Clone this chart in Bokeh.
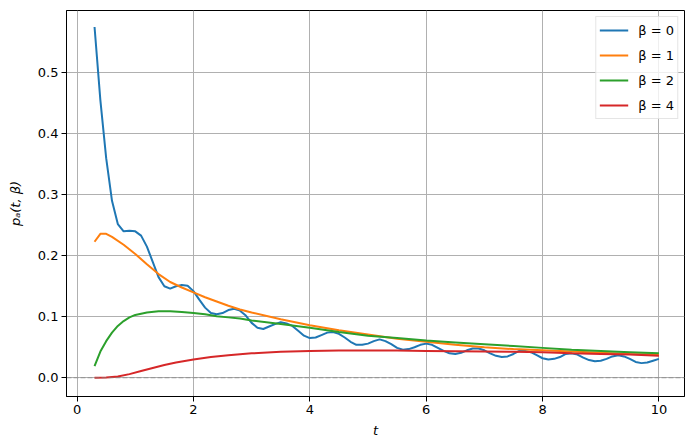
import numpy as np
from bokeh.plotting import figure
from bokeh.models import Range1d, FixedTicker, Span, Legend, LegendItem, NumeralTickFormatter
from bokeh.embed import file_html
from bokeh.resources import INLINE

# ---- data ----
t_beta0 = [round(0.3 + 0.1 * i, 1) for i in range(98)]
p_beta0 = [0.575, 0.455, 0.360, 0.290, 0.252, 0.240, 0.241, 0.240, 0.233, 0.215,
           0.190, 0.165, 0.150, 0.146, 0.150, 0.152, 0.151, 0.142, 0.128, 0.115,
           0.106, 0.104, 0.106, 0.111, 0.113, 0.110, 0.102, 0.090, 0.082, 0.080,
           0.084, 0.088, 0.091, 0.089, 0.085, 0.077, 0.069, 0.065, 0.066, 0.070,
           0.074, 0.075, 0.072, 0.066, 0.059, 0.054, 0.054, 0.056, 0.060, 0.063,
           0.060, 0.055, 0.049, 0.046, 0.047, 0.050, 0.054, 0.056, 0.054, 0.049,
           0.044, 0.040, 0.039, 0.041, 0.045, 0.048, 0.048, 0.045, 0.040, 0.036,
           0.034, 0.035, 0.039, 0.044, 0.044, 0.042, 0.037, 0.032, 0.030, 0.031,
           0.034, 0.039, 0.040, 0.038, 0.033, 0.029, 0.027, 0.028, 0.031, 0.035,
           0.037, 0.035, 0.031, 0.026, 0.024, 0.025, 0.028, 0.031]

t_beta1 = [0.3, 0.4, 0.5, 0.6, 0.8, 1.0, 1.2, 1.4, 1.6, 1.8, 2.0, 2.2, 2.4, 2.6, 2.8,
           3.0, 3.5, 4.0, 4.5, 5.0, 5.5, 6.0, 6.5, 7.0, 7.5, 8.0, 8.5, 9.0, 9.5, 10.0]
p_beta1 = [0.223, 0.236, 0.236, 0.231, 0.218, 0.203, 0.186, 0.170, 0.157, 0.148, 0.140,
           0.132, 0.125, 0.118, 0.112, 0.107, 0.096, 0.086, 0.078, 0.071, 0.064, 0.059,
           0.054, 0.050, 0.047, 0.045, 0.043, 0.041, 0.039, 0.038]

t_beta2 = [0.3, 0.4, 0.5, 0.6, 0.7, 0.8, 0.9, 1.0, 1.2, 1.4, 1.6, 1.8, 2.0, 2.2, 2.4,
           2.6, 2.8, 3.0, 3.5, 4.0, 4.5, 5.0, 5.5, 6.0, 6.5, 7.0, 7.5, 8.0, 8.5, 9.0,
           9.5, 10.0]
p_beta2 = [0.019, 0.043, 0.060, 0.074, 0.085, 0.093, 0.099, 0.103, 0.107, 0.109, 0.109,
           0.108, 0.106, 0.104, 0.101, 0.099, 0.097, 0.094, 0.088, 0.082, 0.075, 0.069,
           0.065, 0.061, 0.058, 0.055, 0.052, 0.049, 0.046, 0.044, 0.042, 0.040]

t_beta4 = [0.3, 0.5, 0.7, 0.9, 1.1, 1.3, 1.5, 1.7, 2.0, 2.3, 2.6, 3.0, 3.5, 4.0, 4.5,
           5.0, 5.5, 6.0, 6.5, 7.0, 7.5, 8.0, 8.5, 9.0, 9.5, 10.0]
p_beta4 = [0.0, 0.0005, 0.002, 0.006, 0.011, 0.016, 0.021, 0.025, 0.030, 0.034, 0.037,
           0.040, 0.0425, 0.044, 0.0445, 0.0447, 0.0445, 0.044, 0.0435, 0.043, 0.0425,
           0.042, 0.040, 0.039, 0.038, 0.036]

labels = ["β = 0", "β = 1", "β = 2", "β = 4"]
colors = ["#1f77b4", "#ff7f0e", "#2ca02c", "#d62728"]
x_ticks = [0, 2, 4, 6, 8, 10]
y_ticks = [0.0, 0.1, 0.2, 0.3, 0.4, 0.5]

FONT = "DejaVu Sans"

p = figure(width=695, height=448, output_backend="svg", toolbar_location=None,
           x_range=Range1d(-0.182, 10.44), y_range=Range1d(-0.0307, 0.602),
           min_border_left=66, min_border_right=11, min_border_top=10, min_border_bottom=52)

p.background_fill_color = "white"
p.border_fill_color = "white"
p.outline_line_color = "black"
p.outline_line_width = 1
p.outline_line_alpha = 1

zero = Span(location=0, dimension="width", line_color="gray", line_dash="5 2",
            line_width=1, line_alpha=0.7, level="glyph")
p.add_layout(zero)

renderers = []
for tt, vv, c in zip([t_beta0, t_beta1, t_beta2, t_beta4],
                     [p_beta0, p_beta1, p_beta2, p_beta4], colors):
    renderers.append(p.line(tt, vv, line_color=c, line_width=2))

for ax in (p.xaxis, p.yaxis):
    ax.major_tick_in = 0
    ax.major_tick_out = 5
    ax.minor_tick_in = 0
    ax.minor_tick_out = 0
    ax.axis_line_color = "black"
    ax.major_tick_line_color = "black"
    ax.major_label_text_font = FONT
    ax.major_label_text_font_size = "13px"
    ax.major_label_text_color = "black"
    ax.axis_label_text_font = FONT
    ax.axis_label_text_font_size = "13px"
    ax.axis_label_text_font_style = "italic"
    ax.axis_label_text_color = "black"

p.xaxis.major_label_standoff = 3
p.yaxis.major_label_standoff = 3

p.xaxis.ticker = FixedTicker(ticks=x_ticks)
p.yaxis.ticker = FixedTicker(ticks=y_ticks)
p.xaxis.formatter = NumeralTickFormatter(format="0")
p.yaxis.formatter = NumeralTickFormatter(format="0.0")
p.xaxis.axis_label = "t"
p.yaxis.axis_label = "pₐ(t, β)"
p.xaxis.axis_label_standoff = 6
p.yaxis.axis_label_standoff = 12

p.xgrid.ticker = FixedTicker(ticks=x_ticks)
p.ygrid.ticker = FixedTicker(ticks=y_ticks)
p.grid.grid_line_color = "#b0b0b0"
p.grid.grid_line_width = 1

legend = Legend(items=[LegendItem(label=l, renderers=[r]) for l, r in zip(labels, renderers)],
                location="top_right")
legend.margin = 6
legend.padding = 3
legend.spacing = 5
legend.glyph_width = 29
legend.glyph_height = 20
legend.label_height = 20
legend.label_standoff = 10
legend.label_text_font = FONT
legend.label_text_font_size = "13px"
legend.label_text_color = "black"
legend.border_line_color = "#cccccc"
legend.border_line_width = 1
legend.background_fill_alpha = 0.8
p.add_layout(legend)

open("out.html", "w").write(file_html(p, INLINE))
